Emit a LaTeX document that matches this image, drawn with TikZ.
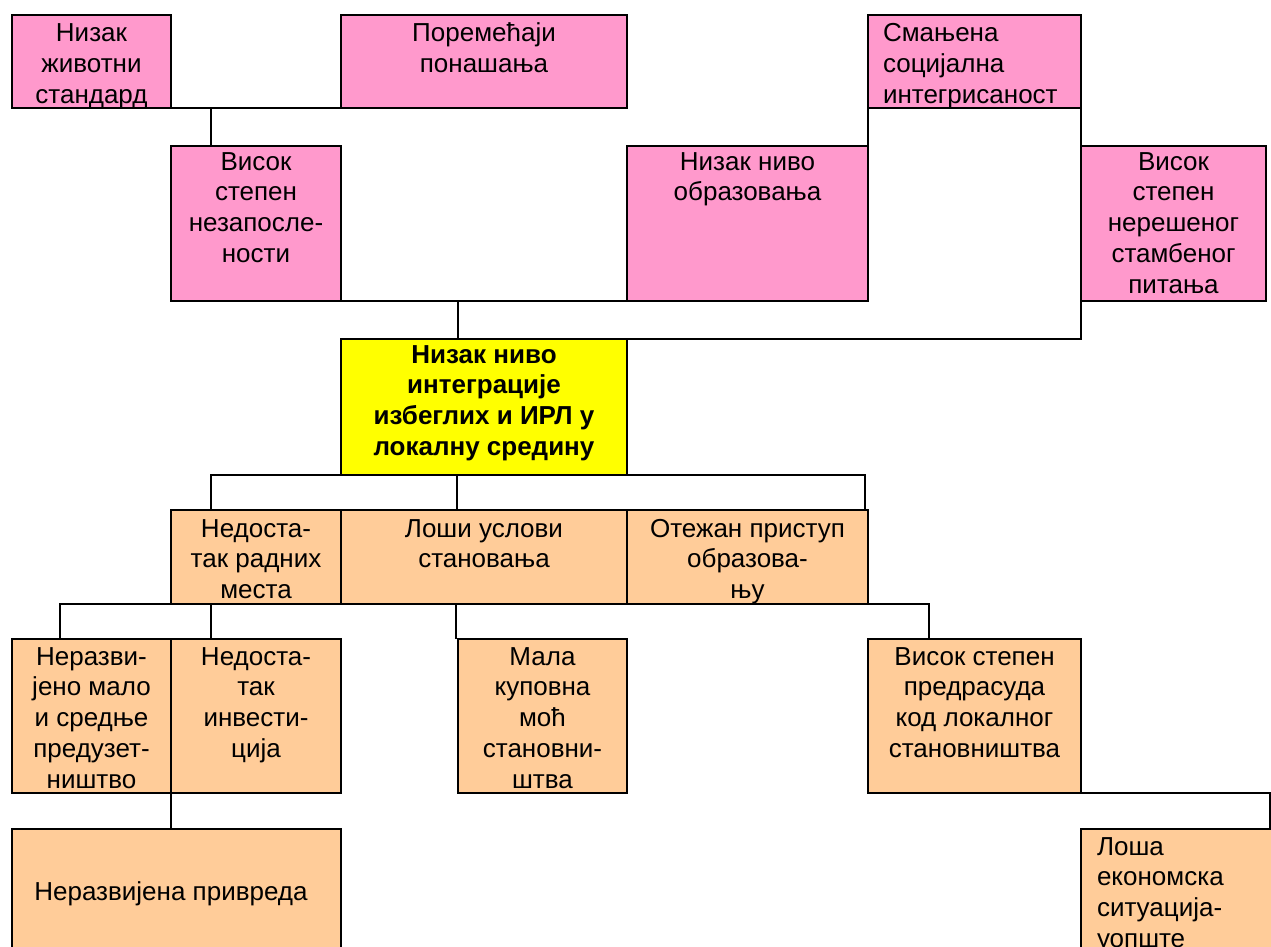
\documentclass[tikz,border=0pt]{standalone}
\usepackage{fontspec}
\setmainfont{Liberation Sans}
\usetikzlibrary{calc}
\definecolor{pinkc}{HTML}{FF99CC}
\definecolor{yelc}{HTML}{FFFF00}
\definecolor{peachc}{HTML}{FFCC99}
\newcommand\myfs{\fontsize{26}{30.8}\selectfont}
\newcommand\mytxt[1]{\parbox[t]{330pt}{\centering #1}}
\newcommand\mytxtl[1]{\parbox[t]{330pt}{\raggedright #1}}
\newcommand\bx[6]{\node[box, fill=#6, minimum width={(#4-#2)*1pt}, minimum height={(#5-#3)*1pt}] (#1) at (#2,#3) {};}
\tikzset{
  box/.style={draw=black, line width=2pt, anchor=north west, inner sep=0pt, outer sep=0pt},
  txt/.style={anchor=base, inner sep=0pt, outer sep=0pt, font=\myfs},
  txtl/.style={anchor=base west, inner sep=0pt, outer sep=0pt, font=\myfs},
  conn/.style={draw=black, line width=2pt}
}
\begin{document}
\begin{tikzpicture}[x=1pt,y=-1pt]
\useasboundingbox (0,0) rectangle (1271,947);
% boxes
\bx{A}{12}{15}{171}{108}{pinkc}
\bx{B}{341}{15}{627}{108}{pinkc}
\bx{SM}{868}{15}{1081}{108}{pinkc}
\bx{C}{171}{146}{341}{301}{pinkc}
\bx{NO}{627}{146}{868}{301}{pinkc}
\bx{VS}{1081}{146}{1266}{301}{pinkc}
\bx{Y}{341}{339}{627}{475}{yelc}
\bx{ND}{171}{510}{341}{604}{peachc}
\bx{LU}{341}{510}{627}{604}{peachc}
\bx{OP}{627}{510}{868}{604}{peachc}
\bx{NM}{12}{639}{171}{793}{peachc}
\bx{NI}{171}{639}{341}{793}{peachc}
\bx{MK}{458}{639}{627}{793}{peachc}
\bx{VP}{868}{639}{1081}{793}{peachc}
\bx{NP}{12}{829}{341}{970}{peachc}
\bx{LE}{1081}{829}{1300}{970}{peachc}
% texts
\node[txt] (At) at ([yshift=-27pt]A.north) {\mytxt{Низак\\животни\\стандард}};
\node[txt] (Bt) at ([yshift=-27pt]B.north) {\mytxt{Поремећаји\\понашања}};
\node[txtl] (SMt) at ([xshift=15pt,yshift=-27pt]SM.north west) {\mytxtl{Смањена\\социјална\\интегрисаност}};
\node[txt] (Ct) at ([yshift=-24pt]C.north) {\mytxt{Висок\\степен\\незапосле-\\ности}};
\node[txt] (NOt) at ([yshift=-24pt]NO.north) {\mytxt{Низак ниво\\образовања}};
\node[txt] (VSt) at ([yshift=-24pt]VS.north) {\mytxt{Висок\\степен\\нерешеног\\стамбеног\\питања}};
\node[txt] (Yt) at ([yshift=-24pt]Y.north) {\mytxt{\bfseries Низак ниво\\интеграције\\избеглих и ИРЛ у\\локалну средину}};
\node[txt] (NDt) at ([yshift=-27pt]ND.north) {\mytxt{Недоста-\\так радних\\места}};
\node[txt] (LUt) at ([yshift=-27pt]LU.north) {\mytxt{Лоши услови\\становања}};
\node[txt] (OPt) at ([yshift=-27pt]OP.north) {\mytxt{Отежан приступ\\образова-\\њу}};
\node[txt] (NMt) at ([yshift=-26pt]NM.north) {\mytxt{Неразви-\\јено мало\\и средње\\предузет-\\ништво}};
\node[txt] (NIt) at ([yshift=-26pt]NI.north) {\mytxt{Недоста-\\так\\инвести-\\ција}};
\node[txt] (MKt) at ([yshift=-26pt]MK.north) {\mytxt{Мала\\куповна\\моћ\\становни-\\штва}};
\node[txt] (VPt) at ([yshift=-26pt]VP.north) {\mytxt{Висок степен\\предрасуда\\код локалног\\становништва}};
\node[txt] (NPt) at ([yshift=-71pt]NP.north -| NI.north west) {\mytxt{Неразвијена привреда}};
\node[txtl] (LEt) at ([xshift=16pt,yshift=-26pt]LE.north west) {\mytxtl{Лоша\\економска\\ситуација-\\уопште}};
% connectors
\draw[conn] (A.south east) -- (B.south west);
\draw[conn] ([xshift=40pt]C.north west) -- ([xshift=40pt]C.north west |- A.south);
\draw[conn] (C.south east) -- (NO.south west);
\draw[conn] ([xshift=117pt]Y.north west) -- ([xshift=117pt]Y.north west |- C.south);
\draw[conn] (SM.south west) -- (NO.north east);
\draw[conn] (SM.south east) |- (Y.north east);
\draw[conn] ([xshift=40pt]ND.north west) |- (Y.south) -| ([xshift=-3pt]OP.north east);
\draw[conn] ([xshift=-27pt]LU.north) -- ([xshift=-27pt]LU.north |- Y.south);
\draw[conn] (ND.south west) -| ([xshift=48pt]NM.north west);
\draw[conn] ([xshift=40pt]ND.south west) -- ([xshift=40pt]NI.north west);
\draw[conn] ([xshift=115pt]LU.south west) -- ([xshift=-2pt]MK.north west);
\draw[conn] (OP.south east) -| ([xshift=61pt]VP.north west);
\draw[conn] (NM.south east) -- (NM.south east |- NP.north);
\draw[conn] (VP.south east) -| ([xshift=189pt]LE.north west);
\end{tikzpicture}
\end{document}
